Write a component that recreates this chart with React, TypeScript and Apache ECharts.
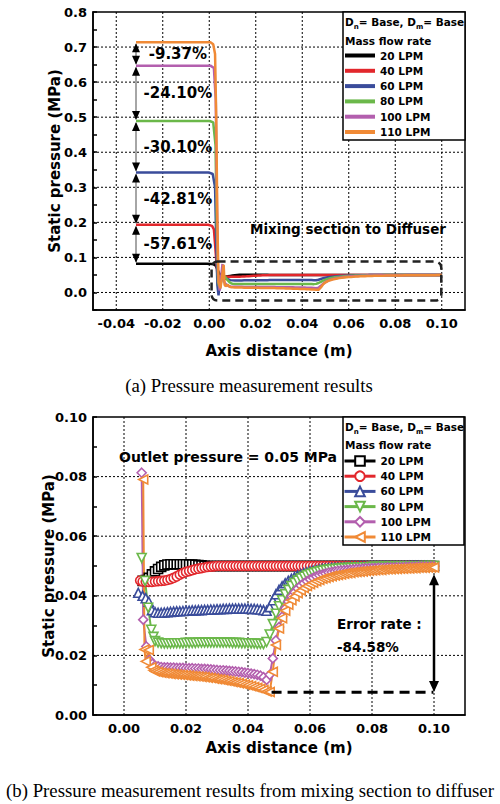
import { useEffect, useRef } from 'react';
import * as echarts from 'echarts';

const FONT = '"DejaVu Sans", Verdana, sans-serif';
const SERIF = '"Liberation Serif", "Times New Roman", serif';

const NAMES = ['20 LPM', '40 LPM', '60 LPM', '80 LPM', '100 LPM', '110 LPM'];
const COLORS = ['#000000', '#e2272c', '#3a4c9b', '#6bb84a', '#b35fae', '#f08a36'];
const SYMBOLS = ['rect', 'circle', 'triangle', 'triangle', 'diamond', 'triangle'];
const ROTATE = [0, 0, 0, 180, 0, 90];
const BSUF = ' (b)';

// ---- top chart: upstream part (x, static pressure MPa) ----
const UP_20 = [[-0.0315, 0.082], [-0.001, 0.082], [0.001, 0.0815], [0.002, 0.080], [0.0028, 0.076], [0.0035, 0.066], [0.0045, 0.052]];
const UP_40 = [[-0.0315, 0.193], [-0.0005, 0.193], [0.0012, 0.190], [0.002, 0.180], [0.0027, 0.12], [0.0035, 0.05], [0.0045, 0.044]];
const UP_60 = [[-0.0315, 0.342], [0.0, 0.342], [0.0015, 0.338], [0.0025, 0.30], [0.003, 0.15], [0.0035, 0.02], [0.004, -0.008]];
const UP_80 = [[-0.0315, 0.489], [0.0002, 0.489], [0.0017, 0.485], [0.0027, 0.42], [0.0032, 0.2], [0.0038, 0.03], [0.0045, 0.008]];
const UP_100 = [[-0.0315, 0.647], [0.0005, 0.647], [0.002, 0.64], [0.0028, 0.55], [0.0033, 0.25], [0.0038, 0.05], [0.0045, 0.005]];
const UP_110 = [[-0.0315, 0.714], [0.0005, 0.714], [0.0017, 0.708], [0.0025, 0.68], [0.003, 0.5], [0.0035, 0.2], [0.004, 0.03], [0.0048, 0.012]];

// ---- mixing section to diffuser: first points (x < 0.010) ----
const HEAD_20 = [[0.0060, 0.0450], [0.0070, 0.0453], [0.0080, 0.0460], [0.0090, 0.0472]];
const HEAD_40 = [[0.0052, 0.0451], [0.0060, 0.0448], [0.0070, 0.0447], [0.0080, 0.0447], [0.0090, 0.0447]];
const HEAD_60 = [[0.0046, 0.0410], [0.0060, 0.0400], [0.0070, 0.0392], [0.0080, 0.0380], [0.0090, 0.0352]];
const HEAD_80 = [[0.0057, 0.0527], [0.0068, 0.0450], [0.0078, 0.0360], [0.0088, 0.0286], [0.0095, 0.0262]];
const HEAD_100 = [[0.0057, 0.0813], [0.0062, 0.0320], [0.0072, 0.0230], [0.0082, 0.0185], [0.0092, 0.0172]];
const HEAD_110 = [[0.0062, 0.0790], [0.0066, 0.0220], [0.0070, 0.0180], [0.0080, 0.0218], [0.0088, 0.0160], [0.0095, 0.0150]];

// ---- mixing section to diffuser: x from 0.010 to 0.100 ----
const BODY_X = [
  0.010, 0.011, 0.012, 0.013, 0.014, 0.015, 0.016, 0.017, 0.018, 0.019,
  0.020, 0.021, 0.022, 0.023, 0.024, 0.025, 0.026, 0.027, 0.028, 0.029,
  0.030, 0.031, 0.032, 0.033, 0.034, 0.035, 0.036, 0.037, 0.038, 0.039,
  0.040, 0.041, 0.042, 0.043, 0.044, 0.045, 0.046, 0.047, 0.048, 0.049,
  0.050, 0.051, 0.052, 0.053, 0.054, 0.055, 0.056, 0.057, 0.058, 0.059,
  0.060, 0.061, 0.062, 0.063, 0.064, 0.065, 0.066, 0.067, 0.068, 0.069,
  0.070, 0.071, 0.072, 0.073, 0.074, 0.075, 0.076, 0.077, 0.078, 0.079,
  0.080, 0.081, 0.082, 0.083, 0.084, 0.085, 0.086, 0.087, 0.088, 0.089,
  0.090, 0.091, 0.092, 0.093, 0.094, 0.095, 0.096, 0.097, 0.098, 0.099,
  0.100,
];
const BODY_20 = [
  0.0482, 0.0490, 0.0497, 0.0502, 0.0505, 0.0506, 0.0506, 0.0506, 0.0506, 0.0506,
  0.0506, 0.0505, 0.0505, 0.0504, 0.0503, 0.0502, 0.0501, 0.0500, 0.0500, 0.0500,
  0.0500, 0.0500, 0.0500, 0.0500, 0.0500, 0.0500, 0.0500, 0.0500, 0.0500, 0.0500,
  0.0500, 0.0500, 0.0500, 0.0500, 0.0500, 0.0500, 0.0500, 0.0500, 0.0500, 0.0500,
  0.0500, 0.0500, 0.0500, 0.0500, 0.0500, 0.0500, 0.0500, 0.0500, 0.0500, 0.0500,
  0.0500, 0.0500, 0.0500, 0.0500, 0.0500, 0.0500, 0.0500, 0.0500, 0.0500, 0.0500,
  0.0500, 0.0500, 0.0500, 0.0500, 0.0500, 0.0500, 0.0500, 0.0500, 0.0500, 0.0500,
  0.0500, 0.0500, 0.0500, 0.0500, 0.0500, 0.0500, 0.0500, 0.0500, 0.0500, 0.0500,
  0.0500, 0.0500, 0.0500, 0.0500, 0.0500, 0.0500, 0.0500, 0.0500, 0.0500, 0.0500,
  0.0500,
];
const BODY_40 = [
  0.0448, 0.0449, 0.0450, 0.0451, 0.0453, 0.0456, 0.0460, 0.0465, 0.0471, 0.0476,
  0.0480, 0.0483, 0.0486, 0.0489, 0.0491, 0.0493, 0.0495, 0.0497, 0.0498, 0.0499,
  0.0500, 0.0500, 0.0500, 0.0500, 0.0500, 0.0500, 0.0500, 0.0500, 0.0500, 0.0500,
  0.0500, 0.0500, 0.0500, 0.0500, 0.0500, 0.0500, 0.0500, 0.0500, 0.0500, 0.0500,
  0.0500, 0.0500, 0.0500, 0.0500, 0.0500, 0.0500, 0.0500, 0.0500, 0.0500, 0.0500,
  0.0500, 0.0500, 0.0500, 0.0500, 0.0500, 0.0500, 0.0500, 0.0500, 0.0500, 0.0500,
  0.0500, 0.0500, 0.0500, 0.0500, 0.0500, 0.0500, 0.0500, 0.0500, 0.0500, 0.0500,
  0.0500, 0.0500, 0.0500, 0.0500, 0.0500, 0.0500, 0.0500, 0.0500, 0.0500, 0.0500,
  0.0500, 0.0500, 0.0500, 0.0500, 0.0500, 0.0500, 0.0500, 0.0500, 0.0500, 0.0500,
  0.0500,
];
const BODY_60 = [
  0.0345, 0.0343, 0.0343, 0.0344, 0.0345, 0.0346, 0.0347, 0.0348, 0.0348, 0.0349,
  0.0350, 0.0350, 0.0351, 0.0351, 0.0352, 0.0352, 0.0353, 0.0353, 0.0354, 0.0354,
  0.0355, 0.0355, 0.0356, 0.0356, 0.0357, 0.0357, 0.0357, 0.0357, 0.0357, 0.0357,
  0.0357, 0.0356, 0.0356, 0.0355, 0.0354, 0.0352, 0.0350, 0.0362, 0.0385, 0.0405,
  0.0420, 0.0432, 0.0442, 0.0450, 0.0457, 0.0463, 0.0468, 0.0472, 0.0476, 0.0479,
  0.0482, 0.0484, 0.0486, 0.0488, 0.0490, 0.0491, 0.0492, 0.0493, 0.0494, 0.0495,
  0.0495, 0.0496, 0.0496, 0.0497, 0.0497, 0.0497, 0.0498, 0.0498, 0.0498, 0.0498,
  0.0499, 0.0499, 0.0499, 0.0499, 0.0499, 0.0499, 0.0499, 0.0499, 0.0499, 0.0499,
  0.0499, 0.0499, 0.0500, 0.0500, 0.0500, 0.0500, 0.0500, 0.0500, 0.0500, 0.0500,
  0.0500,
];
const BODY_80 = [
  0.0248, 0.0243, 0.0241, 0.0240, 0.0240, 0.0240, 0.0241, 0.0241, 0.0241, 0.0241,
  0.0242, 0.0242, 0.0242, 0.0242, 0.0243, 0.0243, 0.0243, 0.0243, 0.0243, 0.0243,
  0.0243, 0.0243, 0.0243, 0.0243, 0.0243, 0.0242, 0.0242, 0.0242, 0.0241, 0.0241,
  0.0241, 0.0240, 0.0240, 0.0239, 0.0239, 0.0238, 0.0245, 0.0270, 0.0305, 0.0340,
  0.0365, 0.0385, 0.0405, 0.0420, 0.0433, 0.0443, 0.0451, 0.0458, 0.0464, 0.0469,
  0.0473, 0.0476, 0.0479, 0.0482, 0.0484, 0.0486, 0.0488, 0.0489, 0.0490, 0.0491,
  0.0492, 0.0493, 0.0493, 0.0494, 0.0494, 0.0495, 0.0495, 0.0496, 0.0496, 0.0496,
  0.0497, 0.0497, 0.0497, 0.0497, 0.0498, 0.0498, 0.0498, 0.0498, 0.0498, 0.0499,
  0.0499, 0.0499, 0.0499, 0.0499, 0.0499, 0.0499, 0.0499, 0.0500, 0.0500, 0.0500,
  0.0500,
];
const BODY_100 = [
  0.0166, 0.0163, 0.0161, 0.0160, 0.0160, 0.0159, 0.0159, 0.0158, 0.0158, 0.0158,
  0.0157, 0.0157, 0.0157, 0.0156, 0.0156, 0.0155, 0.0155, 0.0154, 0.0153, 0.0152,
  0.0151, 0.0150, 0.0150, 0.0149, 0.0148, 0.0147, 0.0146, 0.0145, 0.0144, 0.0142,
  0.0141, 0.0139, 0.0137, 0.0135, 0.0132, 0.0127, 0.0118, 0.0135, 0.0190, 0.0250,
  0.0295, 0.0330, 0.0358, 0.0380, 0.0398, 0.0412, 0.0424, 0.0434, 0.0442, 0.0449,
  0.0455, 0.0460, 0.0465, 0.0469, 0.0472, 0.0475, 0.0478, 0.0480, 0.0482, 0.0484,
  0.0485, 0.0486, 0.0487, 0.0488, 0.0489, 0.0490, 0.0490, 0.0491, 0.0492, 0.0492,
  0.0493, 0.0493, 0.0494, 0.0494, 0.0494, 0.0495, 0.0495, 0.0495, 0.0496, 0.0496,
  0.0496, 0.0497, 0.0497, 0.0497, 0.0497, 0.0498, 0.0498, 0.0498, 0.0498, 0.0499,
  0.0499,
];
const BODY_110 = [
  0.0146, 0.0144, 0.0142, 0.0140, 0.0139, 0.0138, 0.0137, 0.0136, 0.0135, 0.0134,
  0.0133, 0.0132, 0.0131, 0.0130, 0.0129, 0.0128, 0.0127, 0.0125, 0.0124, 0.0122,
  0.0120, 0.0119, 0.0117, 0.0115, 0.0113, 0.0111, 0.0109, 0.0107, 0.0105, 0.0102,
  0.0100, 0.0097, 0.0094, 0.0091, 0.0088, 0.0084, 0.0079, 0.0077, 0.0145, 0.0235,
  0.0290, 0.0325, 0.0350, 0.0370, 0.0385, 0.0398, 0.0409, 0.0418, 0.0426, 0.0433,
  0.0439, 0.0444, 0.0449, 0.0453, 0.0457, 0.0460, 0.0463, 0.0466, 0.0468, 0.0470,
  0.0472, 0.0474, 0.0476, 0.0477, 0.0479, 0.0480, 0.0481, 0.0482, 0.0483, 0.0484,
  0.0485, 0.0486, 0.0487, 0.0487, 0.0488, 0.0489, 0.0489, 0.0490, 0.0490, 0.0491,
  0.0491, 0.0492, 0.0492, 0.0493, 0.0493, 0.0494, 0.0494, 0.0494, 0.0495, 0.0495,
  0.0495,
];

// ---- annotations ----
const PLATEAU = [0.082, 0.193, 0.342, 0.489, 0.647, 0.714];
const PCT_LABELS = ['-9.37%', '-24.10%', '-30.10%', '-42.81%', '-57.61%'];
const ARROW_X = -0.0315;
const PCT_LABEL_X = -0.0135;
const MIX_BOX = [0.001, 0.088, 0.0998, -0.023];
const ERR_ARROW = [0.1, 0.0472, 0.0077, 0.0476, 0.0998, 0.0076];

// ---- grid lines / tick values ----
const A_VGRID = [-0.04, -0.02, 0.0, 0.02, 0.04, 0.06, 0.08, 0.10];
const A_HGRID = [0.0, 0.1, 0.2, 0.3, 0.4, 0.5, 0.6, 0.7];
const B_VGRID = [0.0, 0.02, 0.04, 0.06, 0.08, 0.10];
const B_HGRID = [0.02, 0.04, 0.06, 0.08];

const UPS = [UP_20, UP_40, UP_60, UP_80, UP_100, UP_110];
const HEADS = [HEAD_20, HEAD_40, HEAD_60, HEAD_80, HEAD_100, HEAD_110];
const BODIES = [BODY_20, BODY_40, BODY_60, BODY_80, BODY_100, BODY_110];

function buildOption() {
  const mixData = HEADS.map((h, i) => h.concat(BODY_X.map((x, j) => [x, BODIES[i][j]])));
  const topData = UPS.map((u, i) => u.concat(mixData[i]));

  const axisText = { fontFamily: FONT, fontWeight: 'bold', fontSize: 13, color: '#000' };
  const nameText = { fontFamily: FONT, fontWeight: 'bold', fontSize: 15, color: '#000' };
  const axisLine = { show: true, onZero: false, lineStyle: { color: '#000', width: 1.5 } };

  const gridSeries = (idx: number, vs: number[], hs: number[]) => ({
    type: 'custom',
    xAxisIndex: idx,
    yAxisIndex: idx,
    silent: true,
    clip: false,
    z: 1,
    data: [...vs.map((v) => [v, 0]), ...hs.map((v) => [v, 1])],
    renderItem: (params: any, api: any) => {
      const cs = params.coordSys;
      const v = api.value(0);
      const o = api.value(1);
      let shape;
      if (o === 0) {
        const p = api.coord([v, 0.05]);
        shape = { x1: p[0], y1: cs.y, x2: p[0], y2: cs.y + cs.height };
      } else {
        const p = api.coord([0.05, v]);
        shape = { x1: cs.x, y1: p[1], x2: cs.x + cs.width, y2: p[1] };
      }
      return { type: 'line', shape, style: { stroke: '#000', lineWidth: 1, lineDash: [2, 2] } };
    },
  });

  const titleRich = {
    a: { fontFamily: FONT, fontWeight: 'bold', fontSize: 10.5, fill: '#000', padding: [0, 0, 3, 0], verticalAlign: 'bottom' },
    s: { fontFamily: FONT, fontWeight: 'bold', fontSize: 7, fill: '#000', verticalAlign: 'bottom' },
  };
  const txt = (x: number, y: number, text: string, size: number, align = 'left', extra: any = {}) => ({
    type: 'text',
    x,
    y,
    z: 100,
    silent: true,
    style: { text, fill: '#000', fontFamily: FONT, fontWeight: 'bold', fontSize: size, align, verticalAlign: 'middle', ...extra },
  });

  return {
    animation: false,
    backgroundColor: '#fff',
    grid: [
      { left: 93, top: 12, width: 372, height: 298, show: true, borderColor: '#000', borderWidth: 1.5, backgroundColor: 'transparent', containLabel: false, outerBoundsMode: 'none' },
      { left: 93, top: 417, width: 372, height: 298, show: true, borderColor: '#000', borderWidth: 1.5, backgroundColor: 'transparent', containLabel: false, outerBoundsMode: 'none' },
    ],
    xAxis: [
      {
        type: 'value', gridIndex: 0, min: -0.05, max: 0.11, interval: 0.01,
        axisLine, axisTick: { show: false }, splitLine: { show: false },
        axisLabel: {
          ...axisText, margin: 7,
          formatter: (v: number) => {
            const k = Math.round(v * 100);
            return k % 2 === 0 && k >= -4 && k <= 10 ? (k / 100).toFixed(2) : '';
          },
        },
        name: 'Axis distance (m)', nameLocation: 'middle', nameGap: 33, nameTextStyle: nameText, nameMoveOverlap: false,
      },
      {
        type: 'value', gridIndex: 1, min: -0.01, max: 0.11, interval: 0.01,
        axisLine, axisTick: { show: false }, splitLine: { show: false },
        axisLabel: {
          ...axisText, margin: 7,
          formatter: (v: number) => {
            const k = Math.round(v * 100);
            return k % 2 === 0 && k >= 0 && k <= 10 ? (k / 100).toFixed(2) : '';
          },
        },
        name: 'Axis distance (m)', nameLocation: 'middle', nameGap: 25, nameTextStyle: nameText, nameMoveOverlap: false,
      },
    ],
    yAxis: [
      {
        type: 'value', gridIndex: 0, min: -0.05, max: 0.8, interval: 0.05,
        axisLine, splitLine: { show: false },
        axisTick: { show: true, inside: true, length: 4, lineStyle: { color: '#000', width: 1.5 } },
        axisLabel: {
          ...axisText, margin: 6,
          formatter: (v: number) => {
            const k = Math.round(v * 100);
            return k % 10 === 0 && k >= 0 ? (k / 100).toFixed(1) : '';
          },
        },
        name: 'Static pressure (MPa)', nameLocation: 'middle', nameGap: 31, nameTextStyle: nameText, nameMoveOverlap: false,
      },
      {
        type: 'value', gridIndex: 1, min: 0, max: 0.1, interval: 0.01,
        axisLine, splitLine: { show: false },
        axisTick: { show: true, inside: true, length: 4, lineStyle: { color: '#000', width: 1.5 } },
        axisLabel: {
          ...axisText, margin: 6,
          formatter: (v: number) => {
            const k = Math.round(v * 100);
            return k % 2 === 0 ? (k / 100).toFixed(2) : '';
          },
        },
        name: 'Static pressure (MPa)', nameLocation: 'middle', nameGap: 37, nameTextStyle: nameText, nameMoveOverlap: false,
      },
    ],
    legend: [
      {
        data: NAMES, left: 343, top: 49.5, orient: 'vertical', itemWidth: 30, itemHeight: 12, itemGap: 3.3,
        padding: 0, z: 70, selectedMode: false,
        textStyle: { fontFamily: FONT, fontWeight: 'bold', fontSize: 10.5, color: '#000', lineHeight: 12 },
        lineStyle: { width: 4 }, itemStyle: { opacity: 0 },
      },
      {
        data: NAMES.map((n) => n + BSUF), formatter: (n: string) => n.replace(BSUF, ''),
        left: 343, top: 455, orient: 'vertical', itemWidth: 31, itemHeight: 12, itemGap: 3.2,
        padding: 0, z: 70, selectedMode: false,
        textStyle: { fontFamily: FONT, fontWeight: 'bold', fontSize: 10.5, color: '#000', lineHeight: 12 },
        lineStyle: { width: 3 }, itemStyle: { borderWidth: 2 },
      },
    ],
    graphic: [
      { type: 'rect', z: 50, silent: true, shape: { x: 343, y: 12, width: 122, height: 128 }, style: { fill: '#fff', stroke: '#000', lineWidth: 1.5 } },
      { type: 'text', x: 345, y: 23, z: 100, silent: true, style: { text: '{a|D}{s|n}{a|= Base, D}{s|m}{a|= Base}', rich: titleRich, verticalAlign: 'middle' } },
      txt(345, 41, 'Mass flow rate', 10.5),
      { type: 'rect', z: 50, silent: true, shape: { x: 343, y: 417, width: 121, height: 128 }, style: { fill: '#fff', stroke: '#000', lineWidth: 1.5 } },
      { type: 'text', x: 345, y: 428, z: 100, silent: true, style: { text: '{a|D}{s|n}{a|= Base, D}{s|m}{a|= Base}', rich: titleRich, verticalAlign: 'middle' } },
      txt(345, 445, 'Mass flow rate', 10.5),
      txt(348, 229, 'Mixing section to Diffuser', 13.5, 'center'),
      txt(119, 457, 'Outlet pressure = 0.05 MPa', 14),
      txt(337, 624, 'Error rate :', 13.5),
      txt(337, 647, '-84.58%', 13.5),
      txt(249, 385, '(a) Pressure measurement results', 18.8, 'center', { fontFamily: SERIF, fontWeight: 'normal' }),
      txt(250, 790, '(b) Pressure measurement results from mixing section to diffuser', 18.8, 'center', { fontFamily: SERIF, fontWeight: 'normal' }),
    ],
    series: [
      gridSeries(0, A_VGRID, A_HGRID),
      gridSeries(1, B_VGRID, B_HGRID),
      ...NAMES.map((n, i) => ({
        type: 'line', name: n, xAxisIndex: 0, yAxisIndex: 0, data: topData[i],
        symbol: 'none', showSymbol: false, silent: true, z: 3,
        lineStyle: { color: COLORS[i], width: 2.5 }, itemStyle: { color: COLORS[i] },
        emphasis: { disabled: true },
      })),
      ...NAMES.map((n, i) => ({
        type: 'line', name: n + BSUF, xAxisIndex: 1, yAxisIndex: 1, data: mixData[i],
        symbol: SYMBOLS[i], symbolRotate: ROTATE[i], symbolSize: 9, showSymbol: true, silent: true, z: 3,
        lineStyle: { color: COLORS[i], width: 2 },
        itemStyle: { color: '#fff', borderColor: COLORS[i], borderWidth: 1.6 },
        emphasis: { disabled: true },
      })),
      {
        type: 'custom', xAxisIndex: 0, yAxisIndex: 0, silent: true, clip: false, z: 5,
        data: PCT_LABELS.map((_, k) => [ARROW_X, PLATEAU[5 - k], PLATEAU[4 - k]]),
        renderItem: (params: any, api: any) => {
          const i = params.dataIndex;
          const x = api.value(0);
          const yt = api.value(1);
          const yb = api.value(2);
          const pt = api.coord([x, yt]);
          const pb = api.coord([x, yb]);
          const lc = api.coord([PCT_LABEL_X, (yt + yb) / 2]);
          return {
            type: 'group',
            children: [
              { type: 'line', shape: { x1: pt[0], y1: pt[1] + 2, x2: pb[0], y2: pb[1] - 2 }, style: { stroke: '#a6a6a6', lineWidth: 2 } },
              { type: 'polygon', shape: { points: [[pt[0], pt[1] + 1], [pt[0] - 4, pt[1] + 10], [pt[0] + 4, pt[1] + 10]] }, style: { fill: '#000' } },
              { type: 'polygon', shape: { points: [[pb[0], pb[1] - 1], [pb[0] - 4, pb[1] - 10], [pb[0] + 4, pb[1] - 10]] }, style: { fill: '#000' } },
              { type: 'text', x: lc[0], y: lc[1], style: { text: PCT_LABELS[i], fill: '#000', fontFamily: FONT, fontWeight: 'bold', fontSize: 15, align: 'center', verticalAlign: 'middle' } },
            ],
          };
        },
      },
      {
        type: 'custom', xAxisIndex: 0, yAxisIndex: 0, silent: true, clip: false, z: 5,
        data: [MIX_BOX],
        renderItem: (params: any, api: any) => {
          const p1 = api.coord([api.value(0), api.value(1)]);
          const p2 = api.coord([api.value(2), api.value(3)]);
          return {
            type: 'rect',
            shape: { x: p1[0], y: p1[1], width: p2[0] - p1[0], height: p2[1] - p1[1], r: 6 },
            style: { fill: 'none', stroke: '#222', lineWidth: 2.5, lineDash: [8, 5] },
          };
        },
      },
      {
        type: 'custom', xAxisIndex: 1, yAxisIndex: 1, silent: true, clip: false, z: 5,
        data: [ERR_ARROW],
        renderItem: (params: any, api: any) => {
          const x = api.value(0);
          const pt = api.coord([x, api.value(1)]);
          const pb = api.coord([x, api.value(2)]);
          const d1 = api.coord([api.value(3), api.value(5)]);
          const d2 = api.coord([api.value(4), api.value(5)]);
          return {
            type: 'group',
            children: [
              { type: 'line', shape: { x1: d1[0], y1: d1[1], x2: d2[0], y2: d2[1] }, style: { stroke: '#000', lineWidth: 3, lineDash: [10, 6] } },
              { type: 'line', shape: { x1: pt[0], y1: pt[1] + 4, x2: pb[0], y2: pb[1] - 4 }, style: { stroke: '#000', lineWidth: 2.5 } },
              { type: 'polygon', shape: { points: [[pt[0], pt[1]], [pt[0] - 5, pt[1] + 11], [pt[0] + 5, pt[1] + 11]] }, style: { fill: '#000' } },
              { type: 'polygon', shape: { points: [[pb[0], pb[1]], [pb[0] - 5, pb[1] - 11], [pb[0] + 5, pb[1] - 11]] }, style: { fill: '#000' } },
            ],
          };
        },
      },
    ],
  };
}

export default function App() {
  const ref = useRef<HTMLDivElement>(null);
  useEffect(() => {
    document.body.style.margin = '0';
    const chart = echarts.init(ref.current as HTMLDivElement, null, { renderer: 'svg' });
    chart.setOption(buildOption() as any);
    return () => chart.dispose();
  }, []);
  return <div ref={ref} style={{ width: 500, height: 804 }} />;
}
